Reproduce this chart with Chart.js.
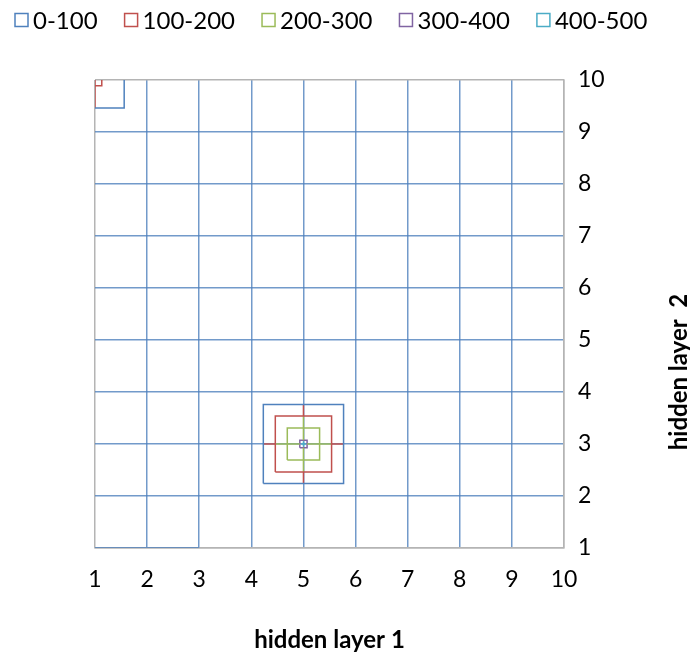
<!DOCTYPE html>
<html>
<head>
<meta charset="utf-8">
<script src="https://cdn.jsdelivr.net/npm/chart.js@4"></script>
<style>
    html, body { margin: 0; padding: 0; background: #ffffff; }
</style>
</head>
<body>
<canvas id="contour-chart" width="690" height="657"></canvas>
<script>
// contour bands (legend)
const bandLabels = ['0-100', '100-200', '200-300', '300-400', '400-500'];
const bandColors = ['#4F81BD', '#C0504D', '#9BBB59', '#8064A2', '#4BACC6'];

// axis ticks
const xTickLabels = ['1', '2', '3', '4', '5', '6', '7', '8', '9', '10'];
const yTickLabels = ['1', '2', '3', '4', '5', '6', '7', '8', '9', '10'];
const xTitle = 'hidden layer 1';
const yTitle = 'hidden layer  2';

// contour lines, one list of polylines per band, points as [x, y]
const band0 = [
    [[1.56, 10], [1.56, 9.46], [1, 9.46]],
    [[4.23, 2.24], [5.77, 2.24], [5.77, 3.76], [4.23, 3.76], [4.23, 2.24]],
    [[1, 1], [3, 1]]
];
const band1 = [
    [[1.13, 10], [1.13, 9.89], [1, 9.89]],
    [[1, 10], [1, 9.46]],
    [[4.46, 2.46], [5.54, 2.46], [5.54, 3.54], [4.46, 3.54], [4.46, 2.46]],
    [[5, 3.76], [5, 3.54]],
    [[5, 2.24], [5, 2.46]],
    [[4.23, 3], [4.46, 3]],
    [[5.54, 3], [5.77, 3]]
];
const band2 = [
    [[4.69, 2.69], [5.31, 2.69], [5.31, 3.31], [4.69, 3.31], [4.69, 2.69]],
    [[5, 3.54], [5, 3.07]],
    [[5, 2.46], [5, 2.93]],
    [[4.46, 3], [4.93, 3]],
    [[5.07, 3], [5.54, 3]]
];
const band3 = [
    [[4.93, 2.93], [5.07, 2.93], [5.07, 3.07], [4.93, 3.07], [4.93, 2.93]]
];
const band4 = [
    [[5, 2.95], [5, 3.05]],
    [[4.95, 3], [5.05, 3]]
];

const FONT = 'Lato, "Open Sans", sans-serif';
const FRAME = '#B4B4B4';
const GRID = 'rgba(79, 129, 189, 0.8)';

const bandLegend = {
    id: 'bandLegend',
    afterDraw(chart) {
        const ctx = chart.ctx;
        ctx.save();
        ctx.font = '24px ' + FONT;
        ctx.textBaseline = 'middle';
        ctx.textAlign = 'left';
        let x = 15;
        const cy = 20;
        bandLabels.forEach((label, i) => {
            ctx.fillStyle = '#ffffff';
            ctx.fillRect(x, cy - 6.5, 13, 13);
            ctx.strokeStyle = bandColors[i];
            ctx.lineWidth = 1.5;
            ctx.strokeRect(x, cy - 6.5, 13, 13);
            ctx.fillStyle = '#000000';
            ctx.fillText(label, x + 18, cy + 1);
            x += 18 + ctx.measureText(label).width + 27;
        });
        ctx.restore();
    }
};

const axisTitles = {
    id: 'axisTitles',
    afterDraw(chart) {
        const ctx = chart.ctx;
        ctx.save();
        ctx.font = 'bold 24px ' + FONT;
        ctx.fillStyle = '#000000';
        ctx.textAlign = 'center';
        ctx.textBaseline = 'middle';
        const area = chart.chartArea;
        ctx.fillText(xTitle, (area.left + area.right) / 2, 640);
        ctx.translate(679, 372);
        ctx.rotate(-Math.PI / 2);
        ctx.fillText(yTitle, 0, 0);
        ctx.restore();
    }
};

function edgeColor(lo, hi) {
    return function(context) {
        const v = context.tick ? context.tick.value : null;
        return (v === lo || v === hi) ? FRAME : GRID;
    };
}

const datasets = [];
[band0, band1, band2, band3, band4].forEach((lines, i) => {
    lines.forEach(line => {
        datasets.push({
            label: bandLabels[i],
            data: line.map(p => ({x: p[0], y: p[1]})),
            showLine: true,
            borderColor: bandColors[i],
            backgroundColor: '#ffffff',
            borderWidth: 1.5,
            pointRadius: 0,
            pointHoverRadius: 0,
            fill: false
        });
    });
});

new Chart(document.getElementById('contour-chart').getContext('2d'), {
    type: 'scatter',
    data: { datasets: datasets },
    options: {
        responsive: false,
        animation: false,
        layout: {
            padding: { left: 95, top: 80, right: 0, bottom: 0 }
        },
        scales: {
            x: {
                type: 'linear',
                min: 1,
                max: 10,
                afterFit: function(scale) { scale.height = 109; },
                ticks: {
                    stepSize: 1,
                    padding: 18,
                    color: '#000000',
                    font: { family: FONT, size: 23 },
                    maxRotation: 0,
                    callback: function(value) { return xTickLabels[value - 1]; }
                },
                grid: {
                    color: edgeColor(1, 10),
                    lineWidth: 1.5,
                    drawTicks: false
                },
                border: { color: FRAME, width: 1.5 }
            },
            y: {
                type: 'linear',
                position: 'right',
                min: 1,
                max: 10,
                afterFit: function(scale) { scale.width = 126; },
                ticks: {
                    stepSize: 1,
                    padding: 14,
                    color: '#000000',
                    font: { family: FONT, size: 23 },
                    callback: function(value) { return yTickLabels[value - 1]; }
                },
                grid: {
                    color: edgeColor(1, 10),
                    lineWidth: 1.5,
                    drawTicks: false
                },
                border: { color: FRAME, width: 1.5 }
            }
        },
        plugins: {
            legend: { display: false },
            tooltip: { enabled: false }
        }
    },
    plugins: [bandLegend, axisTitles]
});
</script>
</body>
</html>
